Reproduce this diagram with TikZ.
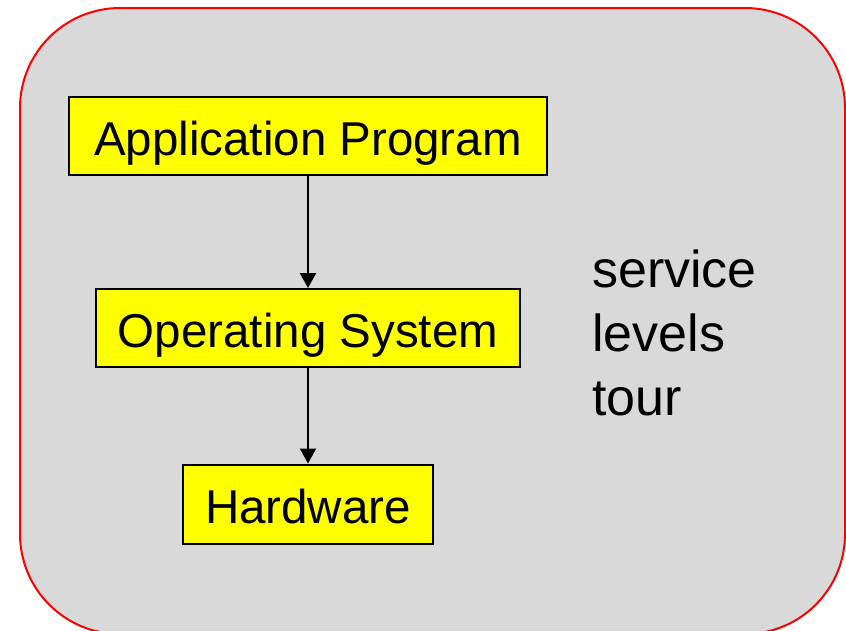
\documentclass[tikz,border=0pt]{standalone}
\usepackage{fontspec}
\setmainfont{Liberation Sans}
\usetikzlibrary{arrows.meta}

\definecolor{panelgray}{HTML}{D9D9D9}
\definecolor{layeryellow}{HTML}{FFFF00}

\tikzset{
  layerbox/.style={draw=black, fill=layeryellow, line width=2pt, inner sep=0pt,
    text height=38pt, text depth=0pt, font=\fontsize{47.5}{56}\selectfont},
  flow/.style={line width=2pt, -{Triangle[width=16pt,length=15pt]}},
  sidetext/.style={align=left, inner sep=0pt, font=\fontsize{52}{64}\selectfont}
}

\begin{document}
\begin{tikzpicture}[x=1pt,y=-1pt]
			\useasboundingbox (0,0) rectangle (846,630);
			\filldraw[fill=panelgray, draw=red, line width=2pt, rounded corners=100pt] (20,8) rectangle (845,634);
			
			\node[layerbox, minimum width=478pt, minimum height=78pt] (app) at (308,136) {Application Program};
			\node[layerbox, minimum width=424pt, minimum height=78pt] (os) at (308,328) {Operating System};
			\node[layerbox, minimum width=250pt, minimum height=79pt] (hw) at (308,504) {Hardware};
			
			\draw[flow] (app) -- (os);
			\draw[flow] (os) -- (hw);
			
			% base anchor sits on the last line
			\node[sidetext, anchor=base west] (levels) at (592,415) {service\\levels\\tour};
		\end{tikzpicture}
\end{document}
